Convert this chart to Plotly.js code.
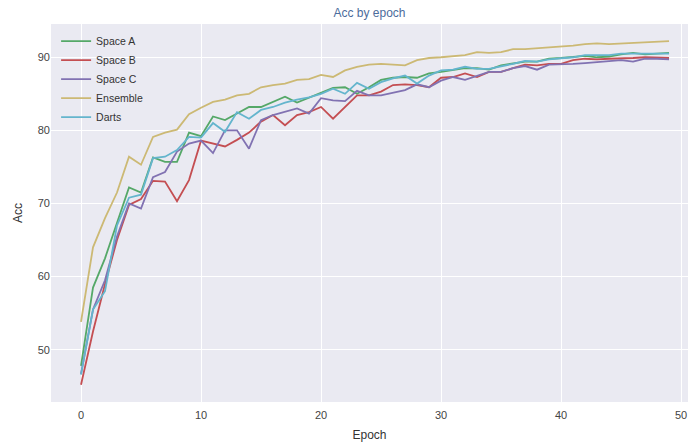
<!DOCTYPE html>
<html>
<head>
<meta charset="utf-8">
<script src="https://cdn.plot.ly/plotly-3.0.1.min.js"></script>
<style>html,body{margin:0;padding:0;background:#fff;}#chart{width:688px;height:442px;}</style>
</head>
<body>
<div id="chart"></div>
<script>
const epochs = [0,1,2,3,4,5,6,7,8,9,10,11,12,13,14,15,16,17,18,19,20,21,22,23,24,25,26,27,28,29,30,31,32,33,34,35,36,37,38,39,40,41,42,43,44,45,46,47,48,49];
const seriesNames = ["Space A", "Space B", "Space C", "Ensemble", "Darts"];
const spaceA = [47.8,58.5,62.5,67.5,72.2,71.5,76.3,75.7,75.7,79.7,79.2,81.9,81.4,82.3,83.2,83.2,83.9,84.6,83.8,84.5,85.1,85.8,85.9,85.0,85.9,86.9,87.2,87.3,87.2,87.8,88.0,88.3,88.5,88.5,88.3,88.9,89.2,89.4,89.4,89.8,89.9,90.0,90.2,90.0,90.1,90.4,90.6,90.4,90.5,90.6];
const spaceB = [45.2,52.5,59.0,65.0,69.8,70.6,73.1,73.0,70.3,73.2,78.6,78.2,77.8,78.7,79.7,81.2,82.1,80.7,82.1,82.5,83.2,81.6,83.2,84.8,84.8,85.3,86.2,86.3,86.2,85.9,87.2,87.3,87.8,87.3,88.0,88.0,88.5,89.0,88.9,89.1,89.1,89.6,89.8,89.7,89.8,89.8,89.9,90.0,90.0,89.9];
const spaceC = [46.7,55.5,59.5,65.5,70.0,69.3,73.6,74.3,77.1,78.2,78.6,76.9,80.0,80.0,77.5,81.4,82.1,82.6,83.0,82.3,84.4,84.1,84.0,85.4,84.8,84.8,85.1,85.5,86.3,85.9,86.8,87.3,86.9,87.5,88.0,88.0,88.5,88.8,88.3,89.0,89.0,89.1,89.2,89.3,89.4,89.6,89.4,89.8,89.8,89.7];
const ensemble = [53.8,64.0,68.0,71.5,76.4,75.3,79.1,79.7,80.1,82.2,83.1,83.9,84.2,84.8,85.0,85.9,86.2,86.4,86.9,87.0,87.6,87.3,88.2,88.7,89.0,89.1,89.0,88.9,89.6,89.9,90.0,90.2,90.3,90.7,90.6,90.7,91.1,91.1,91.2,91.3,91.5,91.6,91.8,91.9,91.8,91.9,92.0,92.1,92.2,92.2];
const darts = [46.6,55.5,58.0,67.0,70.8,71.2,76.2,76.4,77.3,79.1,79.0,81.0,79.8,82.5,81.6,82.8,83.2,83.8,84.2,84.5,85.0,85.7,85.0,86.5,85.7,86.6,87.1,87.5,86.4,87.5,88.2,88.3,88.7,88.4,88.4,88.7,89.1,89.5,89.4,89.7,89.8,90.0,90.3,90.3,90.3,90.5,90.5,90.4,90.5,90.5];
const xTicks = [0,10,20,30,40,50];
const yTicks = [50,60,70,80,90];

const colors = ["#55A868", "#C44E52", "#8172B2", "#CCB974", "#64B5CD"];
const allSeries = [spaceA, spaceB, spaceC, ensemble, darts];
const traces = allSeries.map((ys, i) => ({
  x: epochs, y: ys, name: seriesNames[i], type: "scatter", mode: "lines",
  line: {color: colors[i], width: 1.8}
}));

const font = "Liberation Sans, Arial, sans-serif";
const layout = {
  width: 688, height: 442,
  margin: {l: 51, r: 0, t: 24, b: 40, pad: 0},
  paper_bgcolor: "#ffffff",
  plot_bgcolor: "#EAEAF2",
  font: {family: font, size: 11, color: "#333"},
  title: {text: "Acc by epoch", x: 0.5, xref: "paper", y: 0.972, yref: "container", yanchor: "middle",
          font: {family: font, size: 12, color: "#4C6C9C"}},
  xaxis: {range: [-2.5, 50.58], tickvals: xTicks, ticktext: xTicks.map(String), showgrid: true, gridcolor: "#ffffff", gridwidth: 1,
          zeroline: false, showline: false, ticks: "outside", ticklen: 3, tickcolor: "rgba(0,0,0,0)", tickfont: {size: 11, color: "#444"},
          title: {text: "Epoch", standoff: 10, font: {size: 12, color: "#333"}}},
  yaxis: {range: [42.85, 94.55], tickvals: yTicks, ticktext: yTicks.map(String), showgrid: true, gridcolor: "#ffffff", gridwidth: 1,
          zeroline: false, showline: false, ticks: "", tickfont: {size: 11, color: "#444"},
          title: {text: "Acc", standoff: 12, font: {size: 12, color: "#333"}}},
  legend: {x: 0.008, y: 0.993, xanchor: "left", yanchor: "top", bgcolor: "rgba(0,0,0,0)",
           font: {size: 10.5, color: "#333"}, tracegroupgap: 0, itemwidth: 30},
  showlegend: true
};
Plotly.newPlot("chart", traces, layout, {displayModeBar: false, staticPlot: true});
</script>
</body>
</html>
